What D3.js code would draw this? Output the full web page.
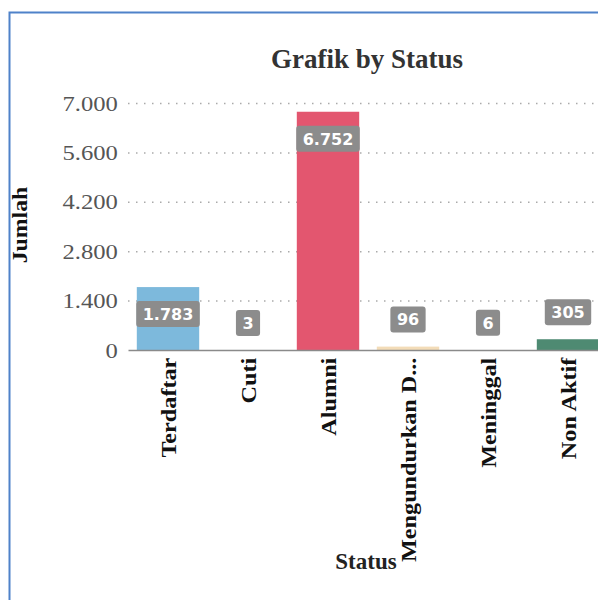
<!DOCTYPE html>
<html>
<head>
<meta charset="utf-8">
<script src="https://cdn.jsdelivr.net/npm/d3@7"></script>
<style>
  body { margin: 0; background: #fff; }
  svg { display: block; }
</style>
</head>
<body>
<div id="wrapper"></div>
<script>
// data
const categories = ["Terdaftar", "Cuti", "Alumni", "Mengundurkan D...", "Meninggal", "Non Aktif"]
const values = [1783, 3, 6752, 96, 6, 305]
const barColors = ["#7db9dc", "#e8eef2", "#e3566f", "#f3dcb8", "#ffffff", "#4e8a72"]
const yTicks = [0, 1400, 2800, 4200, 5600, 7000]

const dataset = categories.map((c, i) => ({ name: c, value: values[i], color: barColors[i] }))

const xAccessor = d => d.name
const yAccessor = d => d.value

let dimensions = {
  width: 598,
  height: 600,
  margin: { top: 103, right: -10, bottom: 250, left: 128 }
}
dimensions.boundedWidth = dimensions.width - dimensions.margin.left - dimensions.margin.right
dimensions.boundedHeight = dimensions.height - dimensions.margin.top - dimensions.margin.bottom

const wrapper = d3.select("#wrapper")
  .append("svg")
    .attr("width", dimensions.width)
    .attr("height", dimensions.height)

// blue frame of the screenshot
wrapper.append("rect")
    .attr("x", 9.5)
    .attr("y", 12.5)
    .attr("width", 700)
    .attr("height", 700)
    .attr("fill", "none")
    .attr("stroke", "#4f82c9")
    .attr("stroke-width", 2)

const bounds = wrapper.append("g")
    .attr("transform", `translate(${dimensions.margin.left},${dimensions.margin.top})`)

// scales
const xScale = d3.scaleBand()
    .domain(categories)
    .range([0, dimensions.boundedWidth])
    .paddingInner(0.22)
    .paddingOuter(0.11)

const yScale = d3.scaleLinear()
    .domain([0, 7000])
    .range([dimensions.boundedHeight, 0])

const locale = d3.formatLocale({ decimal: ",", thousands: ".", grouping: [3], currency: ["", ""] })
const fmt = locale.format(",")

// grid lines (dotted)
bounds.append("g")
  .selectAll("line")
  .data(yTicks.filter(t => t > 0))
  .join("line")
    .attr("x1", 0)
    .attr("x2", dimensions.boundedWidth)
    .attr("y1", d => yScale(d) + 0.5)
    .attr("y2", d => yScale(d) + 0.5)
    .attr("stroke", "#aaa")
    .attr("stroke-width", 1.5)
    .attr("stroke-dasharray", "1.5,6.5")

// y axis
const yAxisGenerator = d3.axisLeft(yScale)
    .tickValues(yTicks)
    .tickFormat(fmt)
    .tickSize(0)
    .tickPadding(9)

const yAxis = bounds.append("g")
    .call(yAxisGenerator)
yAxis.select(".domain").remove()
yAxis.selectAll("text")
    .attr("transform", "scale(1.12,1)")
    .attr("fill", "#555")
    .style("font-family", "'Liberation Serif', 'Times New Roman', serif")
    .style("font-size", "22px")

// bars
bounds.append("g")
  .selectAll("rect")
  .data(dataset)
  .join("rect")
    .attr("x", d => xScale(xAccessor(d)))
    .attr("y", d => yScale(yAccessor(d)))
    .attr("width", xScale.bandwidth())
    .attr("height", d => dimensions.boundedHeight - yScale(yAccessor(d)))
    .attr("fill", d => d.color)

// x axis
const xAxisGenerator = d3.axisBottom(xScale)
    .tickSize(0)
    .tickPadding(0)

const xAxis = bounds.append("g")
    .attr("transform", `translate(0,${dimensions.boundedHeight})`)
    .call(xAxisGenerator)
xAxis.select(".domain")
    .attr("stroke", "#8a8a8a")
    .attr("stroke-width", 1.5)
xAxis.selectAll("text")
    .attr("transform", "rotate(-90) scale(1.1,1)")
    .attr("text-anchor", "end")
    .attr("x", -7)
    .attr("y", 0)
    .attr("dy", "0.35em")
    .attr("fill", "#111")
    .style("font-family", "'Liberation Serif', 'Times New Roman', serif")
    .style("font-weight", "bold")
    .style("font-size", "22px")

// value labels
const labels = bounds.append("g")
  .selectAll("g")
  .data(dataset)
  .join("g")
    .attr("transform", d => {
      const top = yScale(yAccessor(d))
      const h = dimensions.boundedHeight - top
      const cy = h > 60 ? top + 27 : top - 27
      return `translate(${xScale(xAccessor(d)) + xScale.bandwidth() / 2},${cy})`
    })

labels.append("rect")
    .attr("fill", "#8c8c8c")
    .attr("rx", 3)

labels.append("text")
    .attr("text-anchor", "middle")
    .attr("dy", "0.36em")
    .attr("fill", "#fff")
    .style("font-family", "'DejaVu Sans', sans-serif")
    .style("font-weight", "bold")
    .style("font-size", "16px")
    .text(d => fmt(yAccessor(d)))

labels.each(function () {
  const g = d3.select(this)
  const w = g.select("text").node().getComputedTextLength() + 13
  g.select("rect")
    .attr("x", -w / 2)
    .attr("y", -13)
    .attr("width", w)
    .attr("height", 26)
})

// title
wrapper.append("text")
    .attr("x", 367)
    .attr("y", 68)
    .attr("text-anchor", "middle")
    .attr("fill", "#333")
    .style("font-family", "'Liberation Serif', 'Times New Roman', serif")
    .style("font-weight", "bold")
    .style("font-size", "27px")
    .text("Grafik by Status")

// axis titles
wrapper.append("text")
    .attr("transform", "translate(27,225) rotate(-90) scale(1.08,1)")
    .attr("text-anchor", "middle")
    .attr("fill", "#111")
    .style("font-family", "'Liberation Serif', 'Times New Roman', serif")
    .style("font-weight", "bold")
    .style("font-size", "22px")
    .text("Jumlah")

wrapper.append("text")
    .attr("x", 366)
    .attr("y", 569)
    .attr("text-anchor", "middle")
    .attr("fill", "#222")
    .style("font-family", "'Liberation Serif', 'Times New Roman', serif")
    .style("font-weight", "bold")
    .style("font-size", "23px")
    .text("Status")
</script>
</body>
</html>
